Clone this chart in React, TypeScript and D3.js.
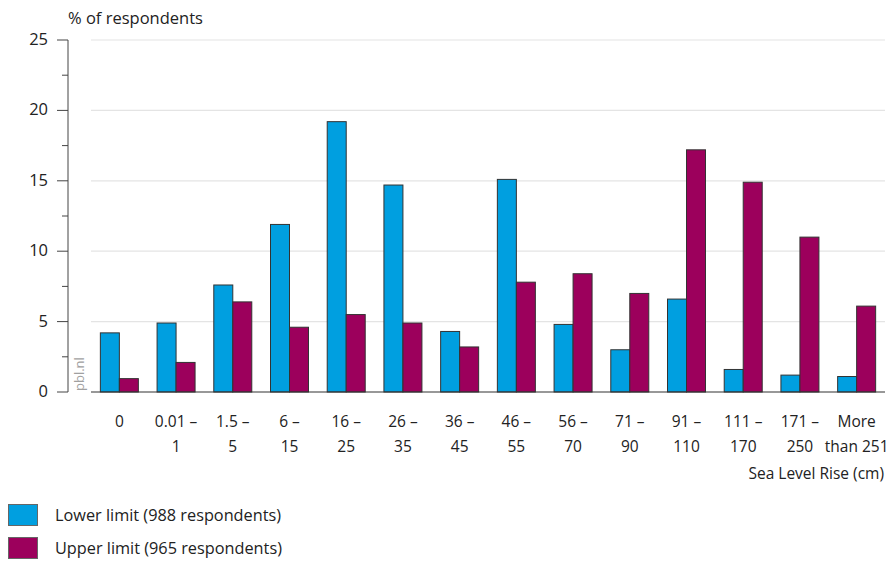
import React from "react";
import * as d3 from "d3";

const categories: string[][] = [
  ["0"], ["0.01 –", "1"], ["1.5 –", "5"], ["6 –", "15"], ["16 –", "25"], ["26 –", "35"],
  ["36 –", "45"], ["46 –", "55"], ["56 –", "70"], ["71 –", "90"], ["91 –", "110"],
  ["111 –", "170"], ["171 –", "250"], ["More", "than 251"],
];
const lowerLimit = [4.2, 4.9, 7.6, 11.9, 19.2, 14.7, 4.3, 15.1, 4.8, 3.0, 6.6, 1.6, 1.2, 1.1];
const upperLimit = [0.95, 2.1, 6.4, 4.6, 5.5, 4.9, 3.2, 7.8, 8.4, 7.0, 17.2, 14.9, 11.0, 6.1];
const yTicks = [0, 5, 10, 15, 20, 25];
const yMinorTicks = [2.5, 7.5, 12.5, 17.5, 22.5];
const seriesNames = ["Lower limit (988 respondents)", "Upper limit (965 respondents)"];
const colors = ["#009fe0", "#9c005c"];

const FONT = "'Open Sans', sans-serif";

export default function App() {
  const W = 888, H = 561;
  const x0 = 91, x1 = 885;
  const y = d3.scaleLinear().domain([0, 25]).range([392, 40]);
  const xb = d3.scaleBand<number>().domain(categories.map((_, i) => i)).range([x0, x1]).paddingInner(0.33).paddingOuter(0.165);
  const xs = d3.scaleBand<number>().domain([0, 1]).range([0, xb.bandwidth()]);
  const series = [lowerLimit, upperLimit];
  return (
    <svg width={W} height={H} style={{ position: "absolute", left: 0, top: 0 }} fontFamily={FONT}>
      <text x={68} y={24} fontSize={16.5} fill="#222">% of respondents</text>
      {yTicks.map(t => (
        <g key={t}>
          {t > 0 && <line x1={x0} x2={x1} y1={y(t)} y2={y(t)} stroke="#e4e4e4" strokeWidth={1.2} />}
          <line x1={57} x2={68} y1={y(t)} y2={y(t)} stroke="#444" strokeWidth={1} />
          <text x={48} y={y(t) + 5} fontSize={16.5} textAnchor="end" fill="#222">{t}</text>
        </g>
      ))}
      {yMinorTicks.map(t => (
        <line key={t} x1={62} x2={68} y1={y(t)} y2={y(t)} stroke="#444" strokeWidth={1} />
      ))}
      <line x1={68} x2={68} y1={y(25)} y2={y(0)} stroke="#444" strokeWidth={1} />
      <text transform={`translate(84,${391}) rotate(-90)`} fontSize={13} fill="#a0a0a0">pbl.nl</text>
      {series.map((vals, s) => vals.map((v, i) => (
        <rect key={`${s}-${i}`} x={(xb(i) as number) + (xs(s) as number)} y={y(v)} width={xs.bandwidth()} height={y(0) - y(v)}
          fill={colors[s]} stroke="#333" strokeWidth={1} />
      )))}
      <line x1={x0} x2={x1} y1={y(0)} y2={y(0)} stroke="#333" strokeWidth={1.2} />
      {categories.map((lines, i) => (
        <text key={i} x={(xb(i) as number) + xb.bandwidth() / 2} textAnchor="middle" fontSize={15.5} fill="#222">
          {lines.map((l, j) => <tspan key={j} x={(xb(i) as number) + xb.bandwidth() / 2} y={427 + j * 25}>{l}</tspan>)}
        </text>
      ))}
      <text x={884} y={479} textAnchor="end" fontSize={15.5} fill="#222">Sea Level Rise (cm)</text>
      {seriesNames.map((n, s) => (
        <g key={n}>
          <rect x={8.5} y={504.5 + s * 33} width={29} height={21} fill={colors[s]} stroke="#666" strokeWidth={1} />
          <text x={55} y={521 + s * 33} fontSize={16.3} fill="#222">{n}</text>
        </g>
      ))}
    </svg>
  );
}
